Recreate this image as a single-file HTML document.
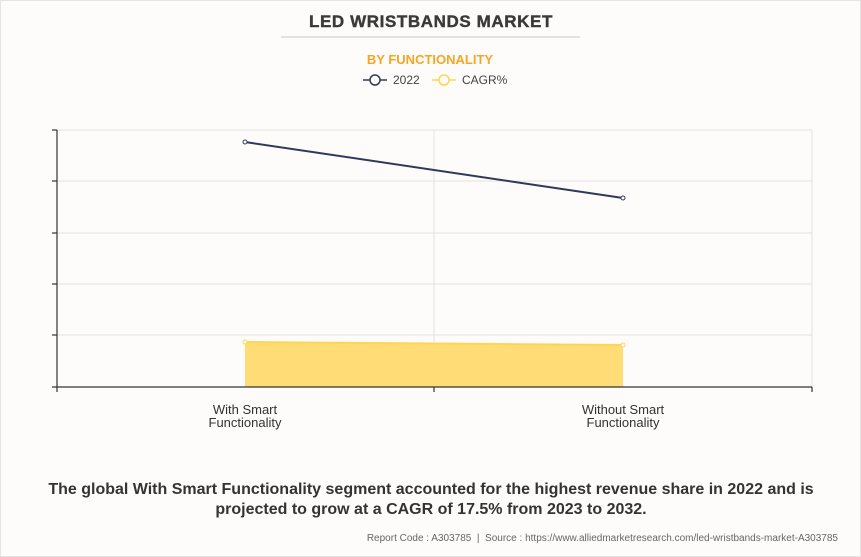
<!DOCTYPE html>
<html><head><style>
body{margin:0;background:#fdfcfb;width:861px;height:557px;overflow:hidden;font-family:"Liberation Sans",sans-serif;}
</style></head><body>
<svg width="861" height="557" xmlns="http://www.w3.org/2000/svg" style="position:absolute;left:0;top:0">
<rect x="0" y="0" width="861" height="557" fill="#fdfcfb"/>
<rect x="0.5" y="0.5" width="860" height="556" fill="none" stroke="#e4e4e4"/>
<text x="431" y="27" text-anchor="middle" font-size="17" font-weight="bold" fill="#3a3a3a" letter-spacing="0.6" stroke="#3a3a3a" stroke-width="0.4" font-family="Liberation Sans">LED WRISTBANDS MARKET</text>
<line x1="281" y1="37" x2="580" y2="37" stroke="#c8c8c8"/>
<text x="430" y="64" text-anchor="middle" font-size="13" font-weight="bold" fill="#f5a623" font-family="Liberation Sans">BY FUNCTIONALITY</text>
<line x1="363" y1="80" x2="387" y2="80" stroke="#2e3a5c" stroke-width="1.5"/>
<circle cx="375" cy="80" r="5" fill="#fdfcfb" stroke="#2e3a5c" stroke-width="1.5"/>
<text x="393" y="84" font-size="12" fill="#444" font-family="Liberation Sans">2022</text>
<line x1="432" y1="80" x2="456" y2="80" stroke="#ffd54f" stroke-width="1.5"/>
<circle cx="444" cy="80" r="5" fill="#fdfcfb" stroke="#ffd54f" stroke-width="1.5"/>
<text x="462" y="84" font-size="12" fill="#444" font-family="Liberation Sans">CAGR%</text>
<g stroke="#e2e2e2" stroke-width="1">
<line x1="57" y1="130" x2="812" y2="130"/><line x1="57" y1="181" x2="812" y2="181"/>
<line x1="57" y1="233" x2="812" y2="233"/><line x1="57" y1="284" x2="812" y2="284"/>
<line x1="57" y1="335" x2="812" y2="335"/>
<line x1="434" y1="130" x2="434" y2="387"/><line x1="812" y1="130" x2="812" y2="387"/>
</g>
<polygon points="245,342 623,345 623,387 245,387" fill="#ffdc75"/>
<line x1="245" y1="342" x2="623" y2="345" stroke="#ffd54f" stroke-width="2"/>
<circle cx="245" cy="342" r="2" fill="#fff" stroke="#ffd54f"/>
<circle cx="623" cy="345" r="2" fill="#fff" stroke="#ffd54f"/>
<line x1="245" y1="142" x2="623" y2="198" stroke="#2e3a5c" stroke-width="2"/>
<circle cx="245" cy="142" r="2" fill="#fff" stroke="#2e3a5c"/>
<circle cx="623" cy="198" r="2" fill="#fff" stroke="#2e3a5c"/>
<g stroke="#333" stroke-width="1.2">
<line x1="57" y1="130" x2="57" y2="392"/>
<line x1="52" y1="387" x2="812" y2="387"/>
<line x1="52" y1="130" x2="57" y2="130"/><line x1="52" y1="181" x2="57" y2="181"/>
<line x1="52" y1="233" x2="57" y2="233"/><line x1="52" y1="284" x2="57" y2="284"/>
<line x1="52" y1="335" x2="57" y2="335"/>
<line x1="434" y1="387" x2="434" y2="392"/><line x1="812" y1="387" x2="812" y2="392"/>
</g>
<g font-size="13" fill="#333" text-anchor="middle" font-family="Liberation Sans">
<text x="245" y="414">With Smart</text><text x="245" y="427">Functionality</text>
<text x="623" y="414">Without Smart</text><text x="623" y="427">Functionality</text>
</g>
<g font-size="16" font-weight="bold" fill="#333" text-anchor="middle" font-family="Liberation Sans">
<text x="431" y="494">The global With Smart Functionality segment accounted for the highest revenue share in 2022 and is</text>
<text x="431" y="514">projected to grow at a CAGR of 17.5% from 2023 to 2032.</text>
</g>
<text x="838" y="541" text-anchor="end" font-size="10" fill="#666" font-family="Liberation Sans" xml:space="preserve">Report Code : A303785  |  Source : https://www.alliedmarketresearch.com/led-wristbands-market-A303785</text>
</svg>
</body></html>
